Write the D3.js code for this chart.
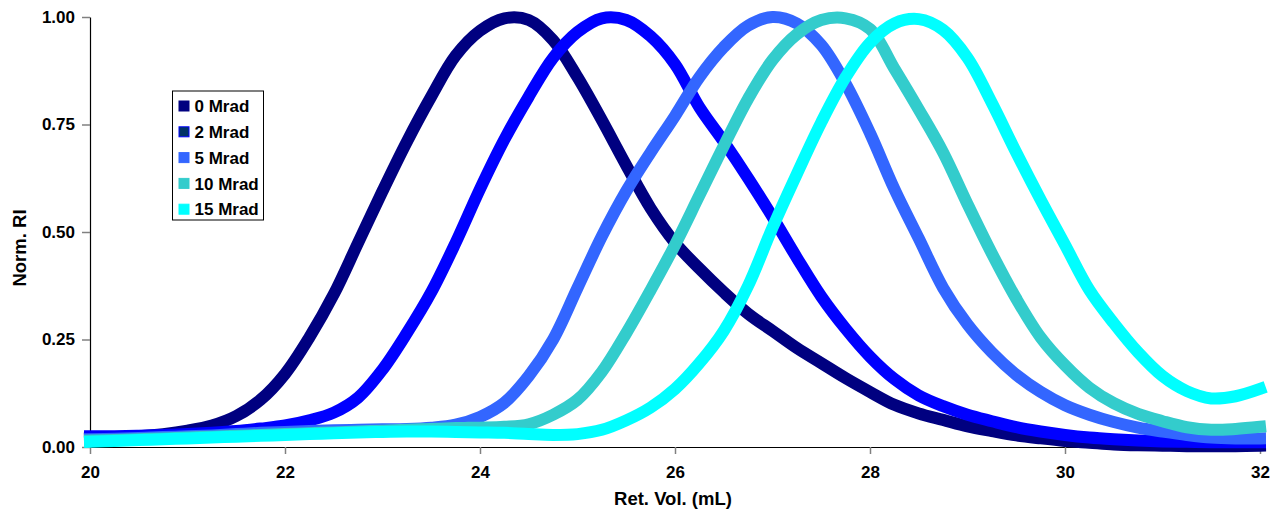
<!DOCTYPE html>
<html>
<head>
<meta charset="utf-8">
<script src="https://cdn.jsdelivr.net/npm/d3@7"></script>
<style>
  html, body { margin: 0; padding: 0; background: #fff; }
  svg { display: block; font-family: "Liberation Sans", Arial, sans-serif; font-weight: bold; }
</style>
</head>
<body>
<svg id="chart" width="1273" height="510"></svg>
<script>
// GPC traces, normalised RI vs. retention volume
const retVol = [20, 20.25, 20.5, 20.75, 21, 21.25, 21.5, 21.75, 22, 22.25, 22.5, 22.75,
  23, 23.25, 23.5, 23.75, 24, 24.25, 24.5, 24.75, 25, 25.25, 25.5, 25.75,
  26, 26.25, 26.5, 26.75, 27, 27.25, 27.5, 27.75, 28, 28.25, 28.5, 28.75,
  29, 29.25, 29.5, 29.75, 30, 30.25, 30.5, 30.75, 31, 31.25, 31.5, 31.75, 32];

const seriesNames = ["0 Mrad", "2 Mrad", "5 Mrad", "10 Mrad", "15 Mrad"];

const mrad0 = [0.02, 0.022, 0.025, 0.03, 0.038, 0.05, 0.072, 0.11, 0.17, 0.255, 0.355, 0.475,
  0.595, 0.71, 0.815, 0.91, 0.968, 0.997, 0.993, 0.946, 0.86, 0.76, 0.655, 0.555,
  0.475, 0.415, 0.36, 0.31, 0.27, 0.23, 0.195, 0.16, 0.128, 0.098, 0.078, 0.063,
  0.048, 0.037, 0.027, 0.02, 0.014, 0.01, 0.006, 0.004, 0.003, 0.002, 0.002, 0.002, 0.003];

const mrad2 = [0.025, 0.025, 0.026, 0.028, 0.03, 0.033, 0.037, 0.043, 0.05, 0.062, 0.08, 0.115,
  0.18, 0.265, 0.36, 0.475, 0.6, 0.715, 0.815, 0.905, 0.965, 0.997, 0.993, 0.955,
  0.89, 0.79, 0.71, 0.625, 0.535, 0.44, 0.35, 0.275, 0.21, 0.158, 0.12, 0.095,
  0.075, 0.06, 0.046, 0.036, 0.028, 0.022, 0.018, 0.015, 0.013, 0.012, 0.011, 0.011, 0.011];

const mrad5 = [0.018, 0.019, 0.021, 0.023, 0.025, 0.027, 0.03, 0.033, 0.035, 0.037, 0.039, 0.04,
  0.041, 0.042, 0.045, 0.052, 0.07, 0.103, 0.165, 0.25, 0.37, 0.49, 0.595, 0.685,
  0.77, 0.86, 0.93, 0.98, 1.0, 0.985, 0.935, 0.845, 0.73, 0.6, 0.485, 0.37,
  0.285, 0.22, 0.168, 0.128, 0.097, 0.075, 0.058, 0.045, 0.036, 0.028, 0.022, 0.02, 0.02];

const mrad10 = [0.015, 0.016, 0.018, 0.02, 0.022, 0.024, 0.026, 0.028, 0.03, 0.032, 0.034, 0.036,
  0.038, 0.04, 0.042, 0.044, 0.045, 0.047, 0.053, 0.075, 0.11, 0.175, 0.265, 0.365,
  0.47, 0.585, 0.7, 0.81, 0.9, 0.96, 0.993, 0.997, 0.972, 0.88, 0.785, 0.685,
  0.565, 0.45, 0.345, 0.255, 0.19, 0.138, 0.102, 0.077, 0.06, 0.046, 0.04, 0.042, 0.047];

const mrad15 = [0.012, 0.014, 0.016, 0.018, 0.02, 0.022, 0.024, 0.026, 0.028, 0.03, 0.032, 0.034,
  0.035, 0.036, 0.036, 0.035, 0.034, 0.033, 0.03, 0.028, 0.03, 0.04, 0.062, 0.092,
  0.135, 0.195, 0.27, 0.375, 0.51, 0.635, 0.755, 0.86, 0.94, 0.985, 0.995, 0.97,
  0.905, 0.8, 0.685, 0.575, 0.47, 0.365, 0.288, 0.22, 0.165, 0.13, 0.113, 0.118, 0.135];

const seriesValues = [mrad0, mrad2, mrad5, mrad10, mrad15];

const xTicks = [20, 22, 24, 26, 28, 30, 32];
const yTicks = [0, 0.25, 0.5, 0.75, 1];

const lineColors   = ["#000080", "#0000FF", "#3366FF", "#33CCCC", "#00FFFF"];
const legendFills  = ["#000080", "#003366", "#3366FF", "#33CCCC", "#00FFFF"];
const legendStroke = ["#000080", "#0000FF", "#3366FF", "#33CCCC", "#00FFFF"];

const svg = d3.select("#chart");

const x = d3.scaleLinear().domain([20, 32]).range([90, 1260]);
const y = d3.scaleLinear().domain([0, 1]).range([447, 17]);

// axes
const gx = svg.append("g")
  .attr("transform", "translate(0,447)")
  .call(d3.axisBottom(x).tickValues(xTicks).tickSize(7).tickSizeOuter(0).tickPadding(12).tickFormat(d3.format("d")));
const gy = svg.append("g")
  .attr("transform", "translate(90,0)")
  .call(d3.axisLeft(y).tickValues(yTicks).tickSize(8).tickSizeOuter(0).tickPadding(7).tickFormat(d3.format(".2f")));

[gx, gy].forEach(a => {
  a.select(".domain").attr("stroke", "#000").attr("stroke-width", 1.2);
  a.selectAll(".tick line").attr("stroke", "#808080").attr("stroke-width", 1.5);
  a.selectAll(".tick text")
    .attr("fill", "#000")
    .style("font-size", "17px")
    .style("font-weight", "bold")
    .style("font-family", "'Liberation Sans', Arial, sans-serif");
});

// axis titles
svg.append("text")
  .attr("x", 673).attr("y", 505)
  .attr("text-anchor", "middle")
  .style("font-size", "18.5px")
  .text("Ret. Vol. (mL)");

svg.append("text")
  .attr("transform", "translate(26,248) rotate(-90)")
  .attr("text-anchor", "middle")
  .style("font-size", "18.5px")
  .text("Norm. RI");

// traces
const line = d3.line()
  .x((d, i) => x(retVol[i]))
  .y(d => y(d))
  .curve(d3.curveCatmullRom.alpha(0.5));

svg.append("g")
  .selectAll("path")
  .data(seriesValues)
  .join("path")
  .attr("d", d => line(d))
  .attr("fill", "none")
  .attr("stroke", (d, i) => lineColors[i])
  .attr("stroke-width", 12)
  .attr("stroke-linejoin", "round")
  .attr("stroke-linecap", "square");

// legend
const legend = svg.append("g");
legend.append("rect")
  .attr("x", 172.5).attr("y", 91)
  .attr("width", 91).attr("height", 129)
  .attr("fill", "#fff")
  .attr("stroke", "#000")
  .attr("stroke-width", 1);

const rows = legend.selectAll("g.row")
  .data(seriesNames)
  .join("g")
  .attr("class", "row")
  .attr("transform", (d, i) => `translate(0,${106 + i * 25.8})`);

rows.append("rect")
  .attr("x", 179).attr("y", -5)
  .attr("width", 10).attr("height", 10)
  .attr("fill", (d, i) => legendFills[i])
  .attr("stroke", (d, i) => legendStroke[i])
  .attr("stroke-width", 1);

rows.append("text")
  .attr("x", 194.5).attr("dy", "0.36em")
  .style("font-size", "17px")
  .text(d => d);
</script>
</body>
</html>
